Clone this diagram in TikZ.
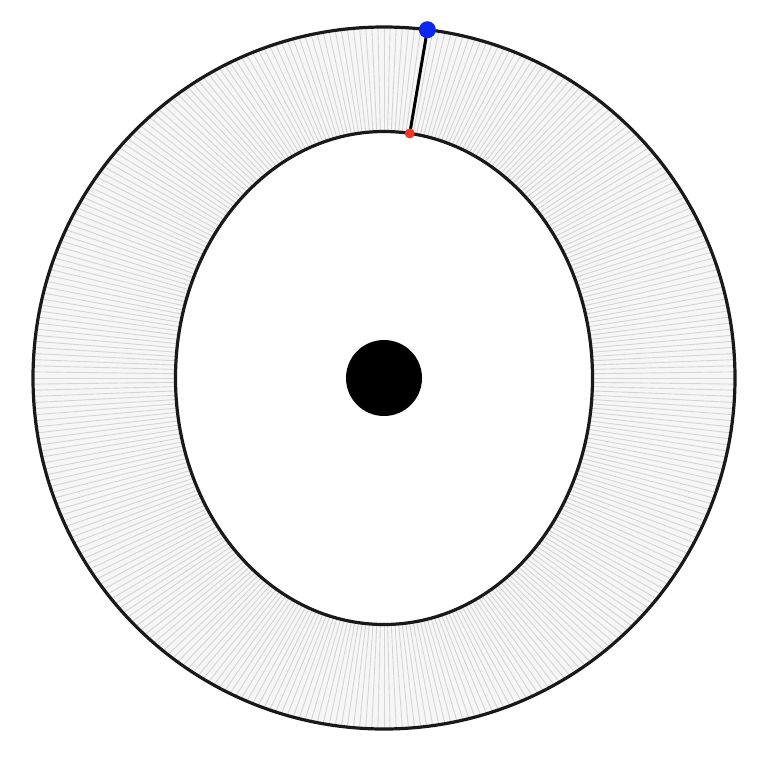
\documentclass[tikz,border=0pt]{standalone}
\usepackage{xcolor}
\usepackage{tikz}
\usetikzlibrary{positioning, calc}
\definecolor{rimgray}{RGB}{212,212,212}
\definecolor{ringfill}{RGB}{246,246,246}
\definecolor{dotblue}{RGB}{10,40,240}
\definecolor{dotred}{RGB}{235,55,35}

\begin{document}
\begin{tikzpicture}[
  x=1pt, y=-1pt,
  rim/.style={draw=black!90, line width=3.2pt},
  spoke/.style={draw=rimgray, line width=0.9pt},
  hub/.style={circle, fill=black, inner sep=0pt, minimum size=76pt},
  tip/.style={circle, fill=dotblue, inner sep=0pt, minimum size=17pt},
  foot/.style={circle, fill=dotred, inner sep=0pt, minimum size=10pt},
  link/.style={draw=black, line width=3pt},
]
\useasboundingbox (0,0) rectangle (764,764);

% ── Centre ──
\coordinate (c) at (384,378);

% ── Ring background ──
\fill[ringfill, even odd rule] (c) circle [radius=351]
  (c) ellipse [x radius=208.5, y radius=246.5];

% ── Spokes between ellipse and circle ──
\foreach \t in {0,1,...,359}
  \draw[spoke] ($(c)+({208.5*cos(\t)},{-246.5*sin(\t)})$)
            -- ($(c)+({351*cos(\t)},{-351*sin(\t)})$);

% ── Rims ──
\draw[rim] (c) circle [radius=351];
\draw[rim] (c) ellipse [x radius=208.5, y radius=246.5];

% ── Hub ──
\node[hub] (hub) at (c) {};

% ── Marked spoke ──
\coordinate (outerpt) at ($(c)+({351*cos(82.9)},{-351*sin(82.9)})$);
\coordinate (innerpt) at ($(c)+({208.5*cos(82.9)},{-246.5*sin(82.9)})$);
\draw[link] (innerpt) -- (outerpt);
\node[tip]  (outer) at (outerpt) {};
\node[foot] (inner) at (innerpt) {};

\end{tikzpicture}
\end{document}
